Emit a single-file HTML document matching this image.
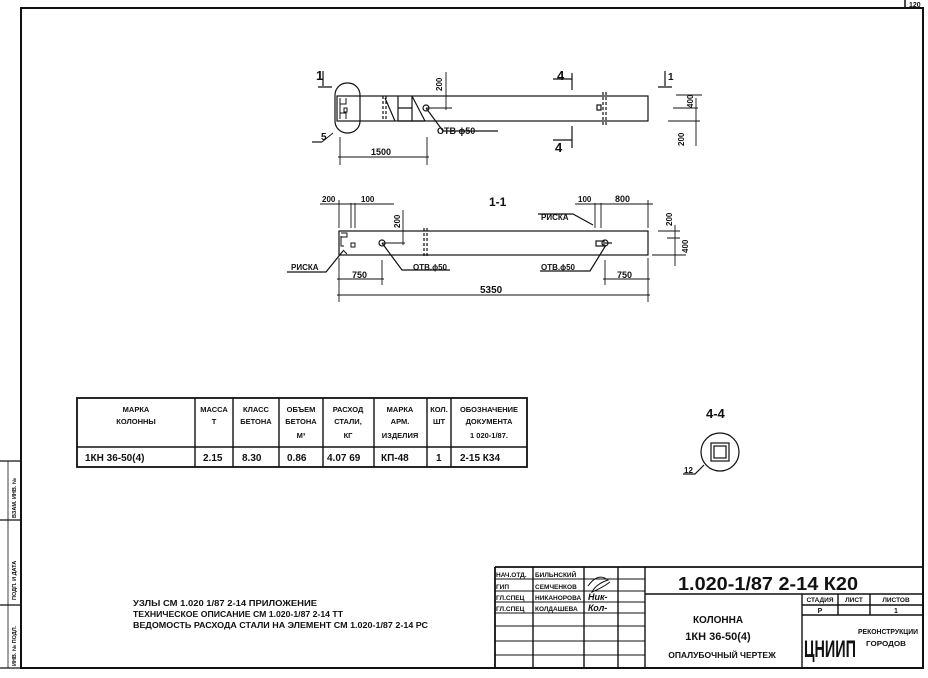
<!DOCTYPE html>
<html><head><meta charset="utf-8"><style>
html,body{margin:0;padding:0;background:#fff;}
svg{display:block;}
text{font-family:"Liberation Sans","DejaVu Sans",sans-serif;font-weight:bold;fill:#111;}
</style></head><body>
<svg width="928" height="678" viewBox="0 0 928 678" xmlns="http://www.w3.org/2000/svg">
<g stroke="#111" fill="none" stroke-width="1.2">
<path d="M21 668 V8 H923 V668 Z" stroke-width="2"/>
<path d="M905 0 V8" stroke-width="1.5"/>
<path d="M0 461 H21 M0 520 H21 M0 605 H21 M0 668 H21" />
<path d="M8 461 V668" stroke-width="0.8"/>

<rect x="337" y="96" width="311" height="25" />
<rect x="335" y="83" width="25" height="50" rx="12" />
<path d="M340 98 v6 h6 v-6 M340 119 v-6 h6 v6 M340 104 v10 M344 108 h3 v4 h-3 z" stroke-width="1"/>
<path d="M383 96 V121 M386 96 V121" stroke-dasharray="3,2"/>
<path d="M385 98 L395 121 M398 96 V121 M412 96 V121 M398 108 H412 M412 96 L425 121 M398 121 H425" />
<circle cx="426" cy="108" r="3"/>
<path d="M446 72 V110 M426 108 H452" stroke-width="0.9"/>
<path d="M426 108 L443 131 H498" />
<path d="M603 92 V125 M606 92 V125" stroke-dasharray="3,2"/>
<rect x="597" y="105" width="4" height="5"/>
<path d="M572 73 V90 M553 79 H572 M572 126 V148 M553 140 H572" />
<path d="M318 87 H332 M323 71 V86 M658 87 H672 M665 71 V86" />
<path d="M673 108 H698 M668 121 H700 M696 98 V146 M676 95 H702" stroke-width="0.9"/>
<path d="M340 137 V165 M427 137 V165 M338 157 H429" stroke-width="0.9"/>
<path d="M322 142 L333 133" stroke-width="0.9"/>
<path d="M312 142 H322" />

<rect x="339" y="231" width="309" height="24"/>
<path d="M341 233 h6 v4 h-6 M341 236 v10 h3 M351 243 h4 v4 h-4z M343 250 l4 4" stroke-width="1"/>
<path d="M424 228 V258 M427 228 V258" stroke-dasharray="3,2"/>
<circle cx="382" cy="243" r="3"/>
<path d="M403 210 V245 M382 243 H405" stroke-width="0.9"/>
<rect x="596" y="241" width="8" height="5"/>
<circle cx="605" cy="243" r="3"/>
<path d="M605 243 H612" />
<path d="M339 200 V228 M351 203 V228 M355 203 V228 M320 204 H394" stroke-width="0.9"/>
<path d="M595 203 V228 M601 203 V228 M648 200 V228 M575 204 H653" stroke-width="0.9"/>
<path d="M658 231 H680 M652 255 H686 M675 225 V266 M667 238 H680" stroke-width="0.9"/>
<path d="M343 251 L326 272 H287" />
<path d="M382 243 L402 270 H450" />
<path d="M606 245 L590 271 H540" />
<path d="M593 225 L573 214 H538" />
<path d="M339 258 V302 M382 260 V285 M605 260 V285 M648 258 V302" stroke-width="0.9"/>
<path d="M337 279 H384 M603 279 H650 M337 295 H650" stroke-width="0.9"/>

<circle cx="720" cy="452" r="19"/>
<rect x="711" y="443" width="18" height="18"/>
<rect x="714" y="446" width="12" height="12"/>
<path d="M704 465 L695 474 H683" />

<rect x="77" y="398" width="450" height="69" stroke-width="1.8"/>
<path d="M77 447 H527 M195 398 V467 M233 398 V467 M279 398 V467 M323 398 V467 M374 398 V467 M427 398 V467 M451 398 V467" stroke-width="1.4"/>

<path d="M495 567 H923 M495 567 V668" stroke-width="1.8"/>
<path d="M533 567 V668 M584 567 V668 M618 567 V668 M645 567 V668" stroke-width="1.4"/>
<path d="M495 579 H645 M495 591 H645 M495 602 H645 M495 613 H645 M495 626 H645 M495 641 H645 M495 655 H645" stroke-width="1"/>
<path d="M645 594 H923 M802 594 V668 M802 605 H923 M802 615 H923 M838 594 V615 M870 594 V615" stroke-width="1.4"/>
<path d="M588 586 q10 -14 20 -6 q-12 4 -16 12 q10 -4 18 -10" stroke-width="1"/>
</g>

<g font-size="9">
<text x="316" y="80" font-size="13">1</text>
<text x="668" y="80" font-size="10">1</text>
<text x="557" y="80" font-size="13">4</text>
<text x="555" y="152" font-size="13">4</text>
<text x="442" y="91" transform="rotate(-90 442 91)" font-size="8">200</text>
<text x="437" y="134" font-size="9">ОТВ ϕ50</text>
<text x="321" y="140" font-size="10">5</text>
<text x="371" y="155" font-size="9">1500</text>
<text x="693" y="108" transform="rotate(-90 693 108)" font-size="8">400</text>
<text x="684" y="146" transform="rotate(-90 684 146)" font-size="8">200</text>

<text x="489" y="206" font-size="12">1-1</text>
<text x="322" y="202" font-size="8">200</text>
<text x="361" y="202" font-size="8">100</text>
<text x="400" y="228" transform="rotate(-90 400 228)" font-size="8">200</text>
<text x="578" y="202" font-size="8">100</text>
<text x="615" y="202" font-size="9">800</text>
<text x="541" y="220" font-size="8">РИСКА</text>
<text x="672" y="226" transform="rotate(-90 672 226)" font-size="8">200</text>
<text x="688" y="253" transform="rotate(-90 688 253)" font-size="8">400</text>
<text x="291" y="270" font-size="8">РИСКА</text>
<text x="413" y="270" font-size="8">ОТВ.ϕ50</text>
<text x="541" y="270" font-size="8">ОТВ.ϕ50</text>
<text x="352" y="278" font-size="9">750</text>
<text x="617" y="278" font-size="9">750</text>
<text x="480" y="293" font-size="10">5350</text>

<text x="706" y="418" font-size="13">4-4</text>
<text x="684" y="473" font-size="8">12</text>

<g font-size="7.5" text-anchor="middle">
<text x="136" y="412">МАРКА</text><text x="136" y="424">КОЛОННЫ</text>
<text x="214" y="412">МАССА</text><text x="214" y="424">Т</text>
<text x="256" y="412">КЛАСС</text><text x="256" y="424">БЕТОНА</text>
<text x="301" y="412">ОБЪЕМ</text><text x="301" y="424">БЕТОНА</text><text x="301" y="438">М³</text>
<text x="348" y="412">РАСХОД</text><text x="348" y="424">СТАЛИ,</text><text x="348" y="438">КГ</text>
<text x="400" y="412">МАРКА</text><text x="400" y="424">АРМ.</text><text x="400" y="438">ИЗДЕЛИЯ</text>
<text x="439" y="412">КОЛ.</text><text x="439" y="424">ШТ</text>
<text x="489" y="412">ОБОЗНАЧЕНИЕ</text><text x="489" y="424">ДОКУМЕНТА</text><text x="489" y="438">1 020-1/87.</text>
</g>
<g font-size="10" font-weight="normal">
<text x="85" y="461">1КН  36-50(4)</text>
<text x="203" y="461">2.15</text>
<text x="242" y="461">8.30</text>
<text x="287" y="461">0.86</text>
<text x="327" y="461">4.07 69</text>
<text x="381" y="461">КП-48</text>
<text x="436" y="461">1</text>
<text x="460" y="461">2-15 К34</text>
</g>

<g font-size="8">
<text x="133" y="606" textLength="184" lengthAdjust="spacingAndGlyphs">УЗЛЫ СМ 1.020 1/87 2-14  ПРИЛОЖЕНИЕ</text>
<text x="133" y="617" textLength="210" lengthAdjust="spacingAndGlyphs">ТЕХНИЧЕСКОЕ ОПИСАНИЕ СМ 1.020-1/87 2-14 ТТ</text>
<text x="133" y="628" textLength="295" lengthAdjust="spacingAndGlyphs">ВЕДОМОСТЬ РАСХОДА СТАЛИ НА ЭЛЕМЕНТ СМ 1.020-1/87 2-14 РС</text>
</g>

<g font-size="6.5">
<text x="496" y="577">НАЧ.ОТД.</text><text x="535" y="577">БИЛЬНСКИЙ</text>
<text x="496" y="589">ГИП</text><text x="535" y="589">СЕМЧЕНКОВ</text>
<text x="496" y="600">ГЛ.СПЕЦ</text><text x="535" y="600">НИКАНОРОВА</text>
<text x="496" y="611">ГЛ.СПЕЦ</text><text x="535" y="611">КОЛДАШЕВА</text>
</g>
<text x="588" y="600" font-size="9" font-style="italic" font-weight="normal">Ник-</text>
<text x="588" y="611" font-size="9" font-style="italic" font-weight="normal">Кол-</text>
<text x="678" y="590" font-size="18" font-weight="normal" textLength="180" lengthAdjust="spacingAndGlyphs">1.020-1/87 2-14 К20</text>
<g text-anchor="middle">
<text x="718" y="623" font-size="10">КОЛОННА</text>
<text x="718" y="640" font-size="11">1КН 36-50(4)</text>
<text x="722" y="658" font-size="8.5">ОПАЛУБОЧНЫЙ ЧЕРТЕЖ</text>
<text x="820" y="602" font-size="6.5">СТАДИЯ</text>
<text x="854" y="602" font-size="6.5">ЛИСТ</text>
<text x="896" y="602" font-size="6.5">ЛИСТОВ</text>
<text x="820" y="613" font-size="7">Р</text>
<text x="896" y="613" font-size="7">1</text>
</g>
<text x="804" y="657" font-size="24" font-weight="normal" textLength="52" lengthAdjust="spacingAndGlyphs">ЦНИИП</text>
<text x="858" y="634" font-size="7" textLength="60" lengthAdjust="spacingAndGlyphs">РЕКОНСТРУКЦИИ</text>
<text x="866" y="646" font-size="7" textLength="40" lengthAdjust="spacingAndGlyphs">ГОРОДОВ</text>
<text x="909" y="7" font-size="7" font-weight="normal">120</text>
<g font-size="5.5">
<text x="16" y="518" transform="rotate(-90 16 518)">ВЗАМ. ИНВ. №</text>
<text x="16" y="600" transform="rotate(-90 16 600)">ПОДП. И ДАТА</text>
<text x="16" y="666" transform="rotate(-90 16 666)">ИНВ. № ПОДЛ.</text>
</g>
</svg>
</body></html>
